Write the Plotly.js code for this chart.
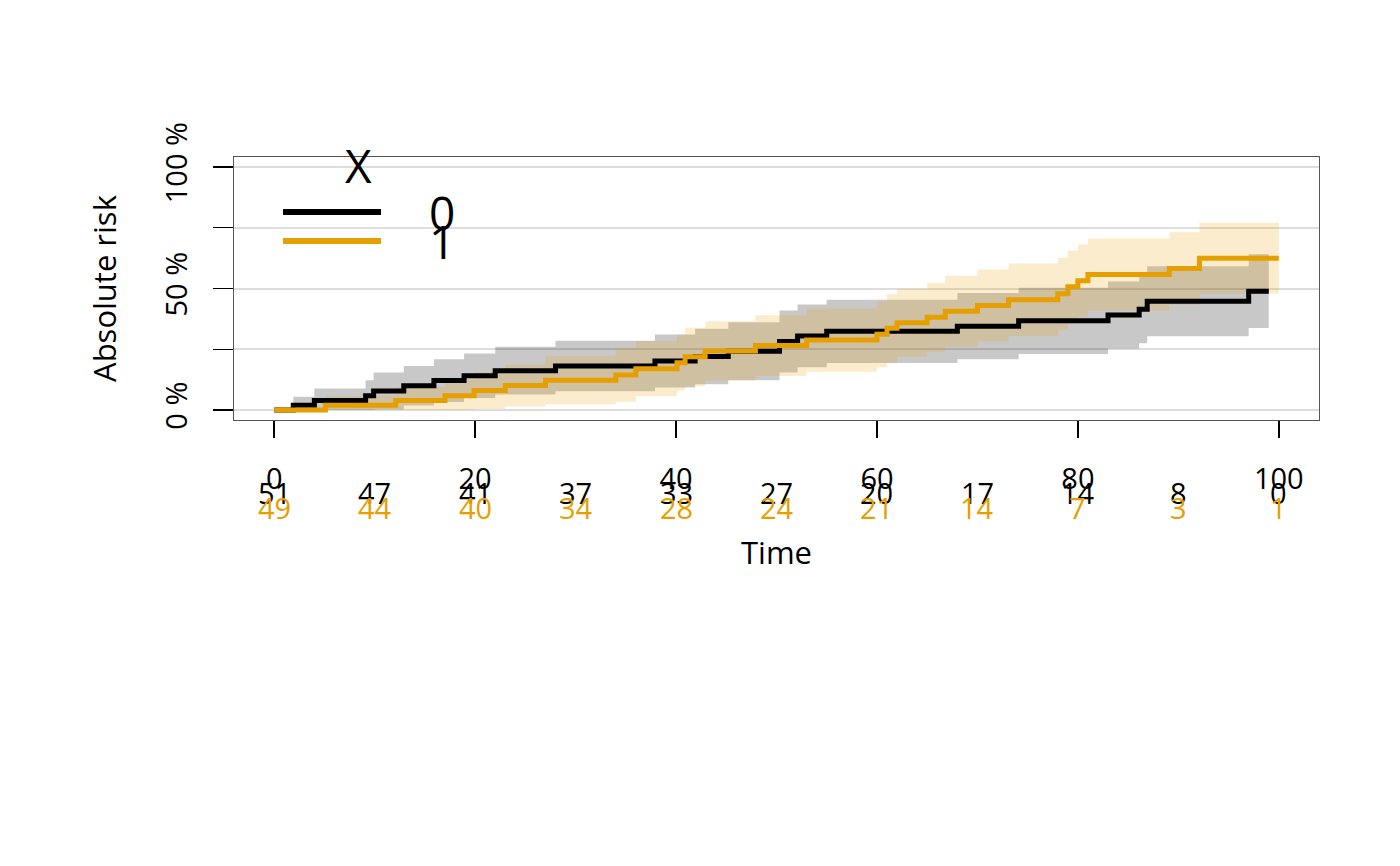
<!DOCTYPE html>
<html>
<head>
<meta charset="utf-8">
<script src="https://cdn.plot.ly/plotly-3.0.1.min.js"></script>
<style>
  html, body { margin: 0; padding: 0; background: #ffffff; }
  #chart { width: 1400px; height: 866px; }
</style>
</head>
<body>
<div id="chart"></div>
<script>
// ---- Data ----
// Group X = 0 (black)
const timesX0 = [0, 1.9, 4.0, 9.1, 9.9, 12.9, 15.9, 18.9, 22.0, 28.0, 37.9, 41.9, 45.2, 50.3, 52.1, 55.0, 68.0, 74.1, 83.0, 86.1, 86.9, 97.0];
const riskX0  = [0, 2.0, 3.9, 5.9, 7.8, 10.0, 12.1, 14.1, 16.2, 18.1, 20.2, 22.0, 24.2, 28.2, 30.5, 32.4, 34.5, 36.7, 39.1, 41.5, 44.8, 48.9];
const upperX0 = [0, 5.5, 8.9, 12.3, 15.4, 18.1, 20.9, 23.3, 26.0, 28.5, 31.1, 33.4, 36.1, 41.0, 43.4, 45.4, 48.1, 50.3, 52.9, 55.5, 59.2, 64.1];
const lowerX0 = [0, 0, 0, 0, 0.2, 1.9, 3.3, 4.9, 6.4, 7.7, 9.3, 10.6, 12.3, 15.4, 17.6, 19.4, 20.9, 23.1, 25.3, 27.5, 30.4, 33.7];
const endX0 = 99.0;

// Group X = 1 (orange)
const timesX1 = [0, 5.1, 12.1, 17.0, 19.9, 23.0, 27.0, 34.0, 36.0, 40.1, 40.9, 42.9, 47.9, 53.0, 60.0, 61.0, 62.0, 65.0, 66.8, 70.0, 73.1, 78.0, 79.0, 80.0, 81.0, 89.1, 92.1];
const riskX1  = [0, 2.0, 3.9, 5.9, 8.0, 10.1, 12.3, 14.4, 17.0, 19.5, 21.9, 24.3, 26.5, 28.8, 31.2, 33.6, 35.9, 38.2, 40.6, 43.0, 45.4, 47.8, 50.7, 53.2, 55.8, 58.2, 62.4];
const upperX1 = [0, 5.9, 9.3, 12.5, 15.6, 18.7, 22.3, 25.4, 28.3, 31.1, 33.9, 36.5, 39.0, 41.8, 44.8, 47.6, 49.9, 52.4, 55.2, 57.8, 60.3, 62.7, 65.6, 68.1, 70.6, 73.1, 77.0];
const lowerX1 = [0, 0, 0, 0, 0.4, 1.5, 2.3, 3.4, 5.7, 7.9, 9.9, 12.1, 14.0, 15.8, 17.6, 19.6, 21.9, 24.0, 26.0, 28.2, 30.5, 32.9, 35.8, 38.3, 41.0, 43.3, 47.8];
const endX1 = 100.0;

// Numbers at risk table
const atRiskTimes = [0, 10, 20, 30, 40, 50, 60, 70, 80, 90, 100];
const atRiskX0 = [51, 47, 41, 37, 33, 27, 20, 17, 14, 8, 0];
const atRiskX1 = [49, 44, 40, 34, 28, 24, 21, 14, 7, 3, 1];

// Axis ticks
const xTicks = [0, 20, 40, 60, 80, 100];
const yTicks = [0, 25, 50, 75, 100];
const yTickText = ['0 %', '', '50 %', '', '100 %'];

const groupLabels = ['0', '1'];
const legendTitle = 'X';

// ---- Styles ----
const BLACK = '#000000';
const ORANGE = '#E69F00';
const FONT = 'Open Sans, Noto Sans, DejaVu Sans, sans-serif';

function stepX(t, end) { return t.concat([end]); }
function stepY(v) { return v.concat([v[v.length - 1]]); }

const traces = [
  { x: stepX(timesX0, endX0), y: stepY(lowerX0), mode: 'lines', line: { width: 0, shape: 'hv' }, hoverinfo: 'skip', showlegend: false },
  { x: stepX(timesX0, endX0), y: stepY(upperX0), mode: 'lines', line: { width: 0, shape: 'hv' }, fill: 'tonexty', fillcolor: 'rgba(0,0,0,0.215)', hoverinfo: 'skip', showlegend: false },
  { x: stepX(timesX1, endX1), y: stepY(lowerX1), mode: 'lines', line: { width: 0, shape: 'hv' }, hoverinfo: 'skip', showlegend: false },
  { x: stepX(timesX1, endX1), y: stepY(upperX1), mode: 'lines', line: { width: 0, shape: 'hv' }, fill: 'tonexty', fillcolor: 'rgba(230,159,0,0.2)', hoverinfo: 'skip', showlegend: false },
  { x: stepX(timesX0, endX0), y: stepY(riskX0), mode: 'lines', line: { width: 5, shape: 'hv', color: BLACK }, showlegend: false },
  { x: stepX(timesX1, endX1), y: stepY(riskX1), mode: 'lines', line: { width: 5, shape: 'hv', color: ORANGE }, showlegend: false }
];

const annotations = [];
atRiskTimes.forEach((t, i) => {
  annotations.push({ x: t, xref: 'x', y: -0.2738, yref: 'paper', text: String(atRiskX0[i]), showarrow: false,
    xanchor: 'center', yanchor: 'middle', font: { family: FONT, size: 29, color: BLACK } });
  annotations.push({ x: t, xref: 'x', y: -0.3308, yref: 'paper', text: String(atRiskX1[i]), showarrow: false,
    xanchor: 'center', yanchor: 'middle', font: { family: FONT, size: 29, color: ORANGE } });
});
// legend texts
annotations.push({ x: 0.1143, xref: 'paper', y: 0.9696, yref: 'paper', text: legendTitle, showarrow: false,
  xanchor: 'center', yanchor: 'middle', font: { family: FONT, size: 46, color: BLACK } });
annotations.push({ x: 0.1917, xref: 'paper', y: 0.7909, yref: 'paper', text: groupLabels[0], showarrow: false,
  xanchor: 'center', yanchor: 'middle', font: { family: FONT, size: 46, color: BLACK } });
annotations.push({ x: 0.1917, xref: 'paper', y: 0.6806, yref: 'paper', text: groupLabels[1], showarrow: false,
  xanchor: 'center', yanchor: 'middle', font: { family: FONT, size: 46, color: BLACK } });

const shapes = [
  { type: 'line', xref: 'paper', yref: 'paper', x0: 0.0452, x1: 0.1355, y0: 0.7909, y1: 0.7909, line: { color: BLACK, width: 6 } },
  { type: 'line', xref: 'paper', yref: 'paper', x0: 0.0452, x1: 0.1355, y0: 0.6806, y1: 0.6806, line: { color: ORANGE, width: 6 } }
];

const layout = {
  width: 1400, height: 866,
  margin: { l: 234, r: 81, t: 157, b: 446, pad: 0 },
  paper_bgcolor: '#ffffff', plot_bgcolor: '#ffffff',
  font: { family: FONT, color: BLACK, size: 29 },
  showlegend: false,
  xaxis: {
    range: [-4, 104], tickvals: xTicks, ticks: 'outside', ticklen: 17, tickwidth: 1.5, tickcolor: BLACK,
    ticklabelstandoff: 16, tickfont: { family: FONT, size: 29, color: BLACK },
    showline: true, mirror: true, linecolor: '#555555', linewidth: 1.2,
    showgrid: false, zeroline: false, automargin: false,
    title: { text: 'Time', font: { family: FONT, size: 31, color: BLACK }, standoff: 46 }
  },
  yaxis: {
    range: [-4.1, 104.1], tickvals: yTicks, ticktext: yTickText, tickangle: -90,
    ticks: 'outside', ticklen: 20, tickwidth: 1.5, tickcolor: BLACK,
    ticklabelstandoff: 14, tickfont: { family: FONT, size: 29, color: BLACK },
    showline: true, mirror: true, linecolor: '#555555', linewidth: 1.2,
    showgrid: true, gridcolor: '#DDDDDD', gridwidth: 2, zeroline: false, automargin: false,
    title: { text: 'Absolute risk', font: { family: FONT, size: 31, color: BLACK }, standoff: 30 }
  },
  annotations: annotations,
  shapes: shapes
};

Plotly.newPlot('chart', traces, layout, { staticPlot: true, displayModeBar: false });
</script>
</body>
</html>
